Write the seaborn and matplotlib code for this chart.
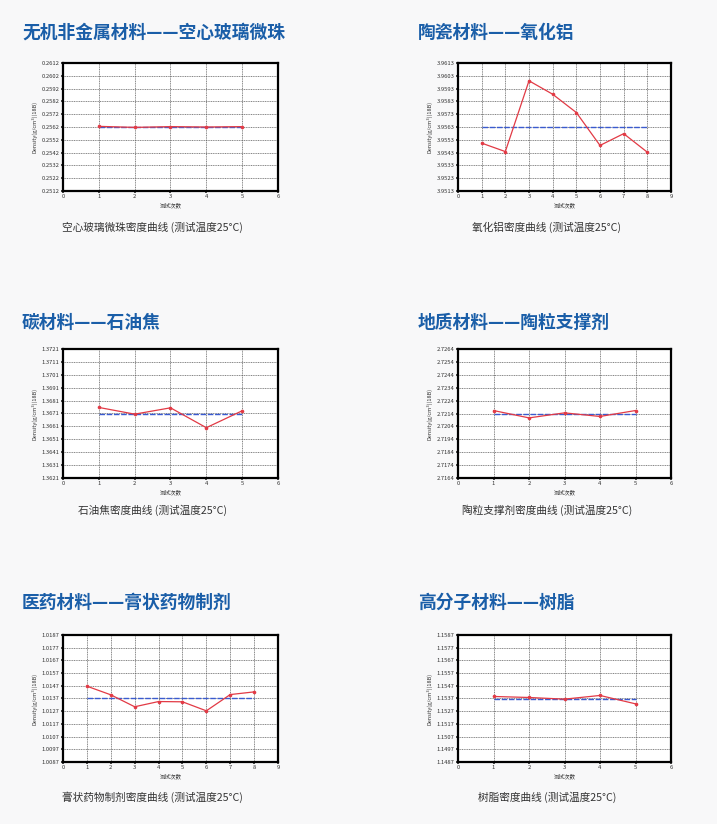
import seaborn as sns
import matplotlib.pyplot as plt
import numpy as np
import pandas as pd

# titles / captions
titles = ['无机非金属材料——空心玻璃微珠', '陶瓷材料——氧化铝',
          '碳材料——石油焦', '地质材料——陶粒支撑剂',
          '医药材料——膏状药物制剂', '高分子材料——树脂']
captions = ['空心玻璃微珠密度曲线 (测试温度25°C)', '氧化铝密度曲线 (测试温度25°C)',
            '石油焦密度曲线 (测试温度25°C)', '陶粒支撑剂密度曲线 (测试温度25°C)',
            '膏状药物制剂密度曲线 (测试温度25°C)', '树脂密度曲线 (测试温度25°C)']

glass = [0.25625, 0.25617, 0.25623, 0.25620, 0.25623]
alumina = [3.95504, 3.95438, 3.95991, 3.95886, 3.95743, 3.95486, 3.95578, 3.95433]
coke = [1.36757, 1.36705, 1.36754, 1.36600, 1.36731]
proppant = [2.72163, 2.72106, 2.72145, 2.72117, 2.72163]
paste = [1.01467, 1.01399, 1.01305, 1.01346, 1.01344, 1.01273, 1.01401, 1.01422]
resin = [1.15386, 1.15378, 1.15365, 1.15394, 1.15328]
series = [glass, alumina, coke, proppant, paste, resin]

# average line (blue dashed)
means = [0.2562, 3.9563, 1.3671, 2.72137, 1.0137, 1.1537]
# y axis bottoms (each axis spans 0.01)
y_low = [0.2512, 3.9513, 1.3621, 2.7164, 1.0087, 1.1487]
x_max = [6, 9, 6, 6, 9, 6]

sns.set_theme(style='white')
plt.rcParams['font.family'] = ['Noto Sans CJK SC', 'DejaVu Sans']

fig = plt.figure(figsize=(7.17, 8.24), dpi=100)
fig.patch.set_facecolor('#f8f8f9')

W, H = 717, 824
col_left = [63, 458]
col_width = [215, 213]
row_top = [63, 349, 635]
row_bottom = [191, 478, 762]
title_y = [33, 323, 603]
title_x = [22, 418]
cap_y = [227, 510, 797]
cap_x = [152, 547]

for i, vals in enumerate(series):
    r, c = divmod(i, 2)
    ax = fig.add_axes([col_left[c] / W, 1 - row_bottom[r] / H,
                       col_width[c] / W, (row_bottom[r] - row_top[r]) / H])
    ax.set_facecolor('white')
    df = pd.DataFrame({'trial': range(1, len(vals) + 1), 'density': vals})
    ax.hlines(means[i], df['trial'].iloc[0], df['trial'].iloc[-1],
              colors='#3a5bd0', linestyles=(0, (4, 1.2)), linewidth=1.0, zorder=3)
    sns.lineplot(data=df, x='trial', y='density', ax=ax, color='#e23a45',
                 linewidth=0.9, marker='o', markersize=2.6, markeredgewidth=0,
                 zorder=4)
    lo = y_low[i]
    ax.set_ylim(lo, lo + 0.01)
    ax.set_yticks(np.linspace(lo, lo + 0.01, 11))
    ax.set_yticklabels([f'{v:.4f}' for v in np.linspace(lo, lo + 0.01, 11)])
    ax.set_xlim(0, x_max[i])
    ax.set_xticks(range(0, x_max[i] + 1))
    ax.grid(True, color='#555555', linestyle=(0, (1.5, 1)), linewidth=0.5)
    ax.tick_params(labelsize=4.2, colors='#333333', length=1.5, pad=1, left=True, bottom=True)
    for s in ax.spines.values():
        s.set_color('black')
        s.set_linewidth(1.6)
    ax.set_xlabel('测试次数', fontsize=4, labelpad=2, color='#333333')
    ax.set_ylabel('Density(g/cm³)(18B)', fontsize=4, labelpad=3, color='#333333')

    fig.text(title_x[c] / W, 1 - title_y[r] / H, titles[i], fontsize=12.8,
             fontweight='bold', color='#1a5ea8', va='center', ha='left')
    fig.text(cap_x[c] / W, 1 - cap_y[r] / H, captions[i], fontsize=7.7,
             color='#333333', va='center', ha='center')

fig.savefig('out.png', dpi=100, facecolor=fig.get_facecolor())
